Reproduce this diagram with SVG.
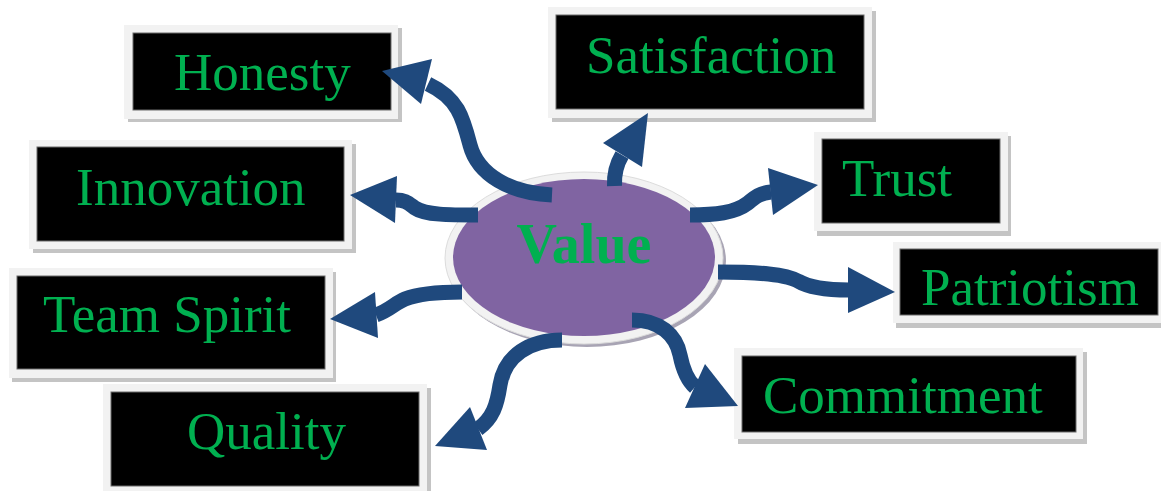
<svg xmlns="http://www.w3.org/2000/svg" width="1161" height="491" viewBox="0 0 1161 491">
<style>
.sh{fill:#c4c4c4}
.fr{fill:#f2f2f2}
.in{fill:#000;stroke:#6a6a6a;stroke-width:1}
.lb{font-family:"Liberation Serif","Times New Roman",serif;font-size:53px;fill:#00b050}
.band{fill:none;stroke:#1f497d;stroke-width:15}
.head{fill:#1f497d}
</style>
<rect width="1161" height="491" fill="#fff"/>
<g id="center">
<ellipse cx="587" cy="261" rx="139" ry="86" fill="#a8a4b4"/>
<ellipse cx="584" cy="258" rx="139" ry="86" fill="#f2f2f2" stroke="#dcdcdc" stroke-width="1"/>
<ellipse cx="584" cy="257.5" rx="131" ry="78.5" fill="#8064a2"/>
<text x="584" y="263" text-anchor="middle" font-family="Liberation Serif, Times New Roman, serif" font-weight="bold" font-size="56" fill="#00b050">Value</text>
</g>
<g id="honesty">
<rect class="sh" x="128" y="28" width="274" height="94"/>
<rect class="fr" x="124" y="25" width="274" height="94"/>
<rect class="in" x="133" y="33" width="258" height="77"/>
<text class="lb" x="174" y="90">Honesty</text>
</g>
<g id="satisfaction">
<rect class="sh" x="552" y="11" width="324" height="111"/>
<rect class="fr" x="548" y="7" width="324" height="111"/>
<rect class="in" x="556" y="15" width="308" height="94"/>
<text class="lb" x="586" y="73">Satisfaction</text>
</g>
<g id="innovation">
<rect class="sh" x="33" y="144" width="323" height="109"/>
<rect class="fr" x="29" y="140" width="323" height="109"/>
<rect class="in" x="37" y="147" width="307" height="94"/>
<text class="lb" x="76" y="205">Innovation</text>
</g>
<g id="teamspirit">
<rect class="sh" x="12" y="272" width="324" height="110"/>
<rect class="fr" x="9" y="268" width="324" height="110"/>
<rect class="in" x="17" y="276" width="308" height="93"/>
<text class="lb" x="43" y="332">Team Spirit</text>
</g>
<g id="quality">
<rect class="sh" x="107" y="388" width="324" height="107"/>
<rect class="fr" x="103" y="384" width="324" height="107"/>
<rect class="in" x="111" y="392" width="308" height="94"/>
<text class="lb" x="187" y="449">Quality</text>
</g>
<g id="trust">
<rect class="sh" x="817" y="136" width="194" height="100"/>
<rect class="fr" x="814" y="132" width="194" height="99"/>
<rect class="in" x="822" y="139" width="178" height="84"/>
<text class="lb" x="842" y="196">Trust</text>
</g>
<g id="patriotism">
<rect class="sh" x="896" y="246" width="270" height="82"/>
<rect class="fr" x="893" y="242" width="270" height="81"/>
<rect class="in" x="900" y="249" width="258" height="66"/>
<text class="lb" x="921" y="305">Patriotism</text>
</g>
<g id="commitment">
<rect class="sh" x="738" y="352" width="349" height="92"/>
<rect class="fr" x="734" y="348" width="349" height="91"/>
<rect class="in" x="742" y="356" width="334" height="76"/>
<text class="lb" x="763" y="413">Commitment</text>
</g>
<g id="connectors">
<path class="band" d="M552,195 C510,193 478,175 470,145 C463,118 458,98 428,84"/>
<polygon class="head" points="382,71 432,59 421,104"/>
<path class="band" d="M614.5,186 C614,175 616,165 622,155"/>
<polygon class="head" points="648,113 603,143 642,167"/>
<path class="band" d="M478,215 C450,215 425,215 415,208 C408,203 405,200 396,200"/>
<polygon class="head" points="350,195 397,176 395,223"/>
<path class="band" d="M462,292 C440,292 420,293 405,299 C395,303 390,310 376,315"/>
<polygon class="head" points="330,319 375,292 378,338"/>
<path class="band" d="M690,215 C715,215 735,213 748,203 C755,197 760,193 771,192"/>
<polygon class="head" points="818,185 768,168 773,215"/>
<path class="band" d="M718,272 C760,272 785,274 798,281 C808,287 825,290 849,290"/>
<polygon class="head" points="895,292 848,267 848,313"/>
<path class="band" d="M562,340 C530,340 505,355 500,385 C497,405 493,418 478,429"/>
<polygon class="head" points="435,446 470,407 487,450"/>
<path class="band" d="M632,320 C660,320 676,335 680,355 C683,370 687,380 695,387"/>
<polygon class="head" points="738,406 705,364 685,408"/>
</g>
</svg>
